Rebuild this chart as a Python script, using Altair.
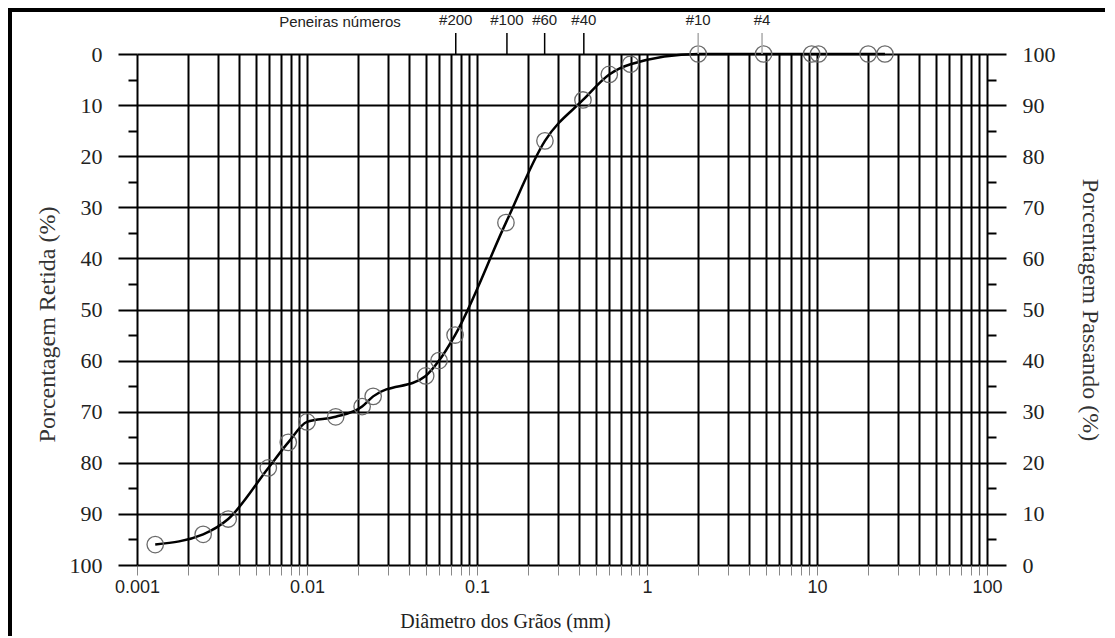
import altair as alt
import pandas as pd

# ---- data ----
diametro = [0.00128, 0.00245, 0.00344, 0.00592, 0.00776, 0.0100, 0.01475, 0.0211,
            0.0245, 0.0499, 0.0598, 0.0743, 0.148, 0.251, 0.42, 0.60, 0.80,
            2.0, 4.85, 9.3, 10.2, 20.0, 25.1]
retida = [96, 94, 91, 81, 76, 72, 71, 69, 67, 63, 60, 55, 33, 17, 9, 4, 2,
          0, 0, 0, 0, 0, 0]
passando = [100 - r for r in retida]

peneira_nome = ["#200", "#100", "#60", "#40", "#10", "#4"]
peneira_abertura = [0.075, 0.15, 0.25, 0.425, 2.0, 4.75]

x_ticks = [0.001, 0.002, 0.003, 0.004, 0.005, 0.006, 0.007, 0.008, 0.009,
           0.01, 0.02, 0.03, 0.04, 0.05, 0.06, 0.07, 0.08, 0.09,
           0.1, 0.2, 0.3, 0.4, 0.5, 0.6, 0.7, 0.8, 0.9,
           1, 2, 3, 4, 5, 6, 7, 8, 9,
           10, 20, 30, 40, 50, 60, 70, 80, 90, 100]
x_decadas = [0.001, 0.01, 0.1, 1, 10, 100]
y_ticks = [0, 5, 10, 15, 20, 25, 30, 35, 40, 45, 50, 55, 60, 65, 70, 75, 80, 85, 90, 95, 100]

SERIF = "Liberation Serif"
SANS = "Liberation Sans"

df = pd.DataFrame({"d": diametro, "r": retida, "p": passando})
sv = pd.DataFrame({"d": peneira_abertura, "nome": peneira_nome})

W, H = 850, 511

xscale = alt.Scale(type="log", domain=[0.001, 100], nice=False)
yscale = alt.Scale(domain=[0, 100], reverse=True, nice=False)

dec_js = "[" + ",".join(str(v) for v in x_decadas) + "]"
x_axis = alt.Axis(
    values=x_ticks, grid=True, gridColor="black", gridWidth=2, gridOpacity=1,
    ticks=True, tickColor="#888", tickSize=10, tickWidth=1, domain=False,
    labelExpr=f"indexof({dec_js}, datum.value) >= 0 ? format(datum.value, '~g') : ''",
    labelFont=SANS, labelFontSize=18, labelColor="#222", labelPadding=3,
    labelOverlap=False, labelFlush=False,
    title="Diâmetro dos Grãos (mm)", titleFont=SERIF, titleFontSize=20,
    titleFontWeight="normal", titleColor="#222", titlePadding=15,
    titleX=368,
)

tick_size_cond = {"condition": {"test": "datum.value % 10 != 0", "value": 9}, "value": 19}

y_axis = alt.Axis(
    values=y_ticks, grid=True, gridColor="black", gridWidth=2,
    gridOpacity={"condition": {"test": "datum.value % 10 != 0", "value": 0}, "value": 1},
    tickSize=tick_size_cond, tickColor="black", tickWidth=2, domain=False,
    labelExpr="datum.value % 10 == 0 ? datum.label : ''",
    labelFont=SERIF, labelFontSize=22, labelColor="#222", labelPadding=16,
    labelOverlap=False, labelFlush=False,
    title="Porcentagem Retida (%)", titleFont=SERIF, titleFontSize=24,
    titleFontWeight="normal", titleColor="#333", titlePadding=10,
    titleY=270,
)

y_axis_r = alt.Axis(
    orient="right", values=y_ticks, grid=False,
    tickSize=tick_size_cond, tickColor="black", tickWidth=2, domain=False,
    labelExpr="datum.value % 10 == 0 ? datum.label : ''",
    labelFont=SERIF, labelFontSize=22, labelColor="#222", labelPadding=16,
    labelOverlap=False, labelFlush=False,
    title="Porcentagem Passando (%)", titleFont=SERIF, titleFontSize=24,
    titleFontWeight="normal", titleColor="#333", titlePadding=22,
)

X = alt.X("d:Q", scale=xscale, axis=x_axis)
Y = alt.Y("r:Q", scale=yscale, axis=y_axis)

base = alt.Chart(df)

linha = base.mark_line(interpolate="monotone", color="black", strokeWidth=2.5).encode(x=X, y=Y)

pontos = base.mark_point(shape="circle", size=270, filled=False, stroke="#6a6a6a",
                         strokeWidth=1.3, opacity=1).encode(x=X, y=Y)

sv_chart = alt.Chart(sv)
regua = sv_chart.mark_rule(strokeWidth=1.5).encode(
    x=X,
    y=alt.value(-21), y2=alt.value(0),
    color=alt.condition(alt.FieldOneOfPredicate(field="nome", oneOf=["#10", "#4"]),
                        alt.value("#aaaaaa"), alt.value("black")),
)
rotulo = sv_chart.mark_text(font=SANS, fontSize=15, color="#222", baseline="middle").encode(
    x=X,
    y=alt.value(-34),
    text="nome:N",
)
peneiras = alt.Chart(pd.DataFrame({"t": ["Peneiras números"]})).mark_text(
    font=SANS, fontSize=15, color="#222", baseline="middle"
).encode(x=alt.value(203), y=alt.value(-32), text="t:N")

borda_topo = alt.Chart(pd.DataFrame({"k": [0]})).mark_rule(color="black", strokeWidth=4).encode(
    x=alt.value(-129), x2=alt.value(980), y=alt.value(-44)
)
borda_esq = alt.Chart(pd.DataFrame({"k": [0]})).mark_rule(color="black", strokeWidth=4).encode(
    x=alt.value(-127), y=alt.value(-46), y2=alt.value(590)
)

principal = alt.layer(linha, pontos, regua, rotulo, peneiras, borda_topo, borda_esq)

direita = base.mark_point(opacity=0).encode(
    x=X,
    y=alt.Y("p:Q", scale=alt.Scale(domain=[0, 100], nice=False), axis=y_axis_r),
)

chart = alt.layer(principal, direita).resolve_scale(y="independent").properties(
    width=W, height=H,
    autosize=alt.AutoSizeParams(type="none"),
    padding={"left": 129, "top": 46, "right": 118, "bottom": 71},
).configure_view(stroke=None).configure(background="white")

chart.save("out.html", embed_options={"renderer": "svg", "actions": False})
